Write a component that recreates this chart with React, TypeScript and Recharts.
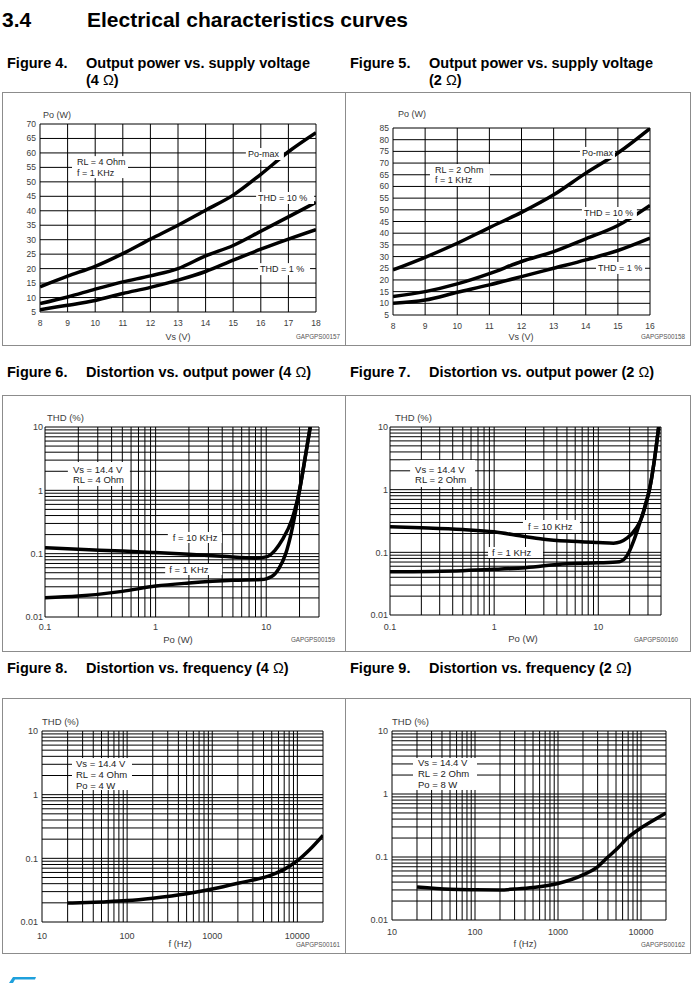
import React from 'react';
import { LineChart, Line, XAxis, YAxis, CartesianGrid, ReferenceDot } from 'recharts';

const FONT = '"Liberation Sans", Arial, Helvetica, sans-serif';
const INK = '#000';
const LABEL = '#3c3c3c';

// Figure 4 - output power vs supply voltage, RL = 4 ohm
const vs4 = [8, 9, 10, 11, 12, 13, 14, 15, 16, 17, 18];
const poMax4 = [13.7, 17.4, 20.8, 25.2, 30.2, 35, 40.2, 45.4, 52.6, 60.4, 67];
const poThd10_4 = [7.9, 10.2, 12.9, 15.4, 17.5, 20, 24.4, 28, 32.9, 37.9, 42.9];
const poThd1_4 = [5.8, 7.3, 9, 11.4, 13.5, 16, 19, 22.9, 26.7, 30.2, 33.5];
const poTicks4 = [5, 10, 15, 20, 25, 30, 35, 40, 45, 50, 55, 60, 65, 70];

// Figure 5 - output power vs supply voltage, RL = 2 ohm
const vs5 = [8, 9, 10, 11, 12, 13, 14, 15, 16];
const poMax5 = [24.3, 29.7, 35.7, 42.4, 48.9, 56.4, 65.7, 74.3, 84.8];
const poThd10_5 = [12.9, 15, 18.3, 22.7, 27.9, 32.1, 37.6, 43.3, 51.9];
const poThd1_5 = [10, 11.4, 14.7, 17.9, 21.4, 25, 28.6, 32.6, 37.9];
const poTicks5 = [5, 10, 15, 20, 25, 30, 35, 40, 45, 50, 55, 60, 65, 70, 75, 80, 85];

// Figure 6 - THD vs output power, RL = 4 ohm
const po6At10k = [0.1, 0.2, 0.5, 1, 2, 4, 8, 10, 12, 14, 17, 20, 22, 25];
const thd6At10k = [0.124, 0.117, 0.11, 0.104, 0.098, 0.091, 0.085, 0.089, 0.113, 0.166, 0.34, 1.0, 2.6, 10];
const po6At1k = [0.1, 0.2, 0.5, 1, 2, 5, 9, 10, 12, 13, 15, 17, 19, 20, 22, 25];
const thd6At1k = [0.0202, 0.0214, 0.0254, 0.0308, 0.0344, 0.038, 0.039, 0.04, 0.048, 0.058, 0.1, 0.23, 0.62, 1.0, 2.6, 10];

// Figure 7 - THD vs output power, RL = 2 ohm
const po7At10k = [0.1, 0.2, 0.5, 1, 2, 3, 5, 10, 14, 19, 23, 26.5, 28.6, 31, 34.6, 38];
const thd7At10k = [0.255, 0.246, 0.231, 0.213, 0.177, 0.162, 0.151, 0.143, 0.14, 0.17, 0.24, 0.38, 0.6, 1.0, 3, 10];
const po7At1k = [0.1, 0.5, 1, 2, 5, 10, 16, 19, 22, 25.4, 28.6, 31, 34.6, 38];
const thd7At1k = [0.049, 0.051, 0.0535, 0.057, 0.066, 0.068, 0.071, 0.09, 0.157, 0.32, 0.6, 1.0, 3, 10];

// Figure 8 - THD vs frequency, RL = 4 ohm, Po = 4 W
const freq8 = [20, 50, 100, 200, 500, 1000, 2000, 5000, 7000, 10000, 14000, 20000];
const thd8 = [0.0198, 0.0207, 0.0217, 0.0237, 0.0278, 0.033, 0.0406, 0.055, 0.067, 0.092, 0.138, 0.23];

// Figure 9 - THD vs frequency, RL = 2 ohm, Po = 8 W
const freq9 = [20, 50, 100, 200, 300, 500, 1000, 2000, 3000, 4000, 5000, 7000, 10000, 14000, 20000];
const thd9 = [0.0334, 0.0307, 0.0302, 0.03, 0.031, 0.0328, 0.038, 0.052, 0.07, 0.1, 0.13, 0.205, 0.29, 0.38, 0.5];

const powerTicks = [0.1, 1, 10];
const freqTicks = [10, 100, 1000, 10000];
const thdTicks = [0.01, 0.1, 1, 10];

// minor log grid: 1..9 in every decade, strictly inside the domain, plus both edges
const logGrid = (lo: number, hi: number) => {
  const out: number[] = [lo];
  for (let e = Math.round(Math.log10(lo)); Math.pow(10, e) < hi; e++) {
    for (let m = 1; m < 10; m++) {
      const v = Number((m * Math.pow(10, e)).toPrecision(3));
      if (v > lo && v < hi) out.push(v);
    }
  }
  out.push(hi);
  return out;
};

type Curve = { xs: number[]; ys: number[] };
type Note = {
  x: number; y: number; lines: string[]; w: number; h: number;
  pad?: number; first?: number; gap?: number; size?: number;
};

interface PlotProps {
  rect: [number, number, number, number];
  log?: boolean;
  xDomain: [number, number];
  yDomain: [number, number];
  xTicks: number[];
  yTicks: number[];
  xGrid: number[];
  yGrid: number[];
  curves: Curve[];
  notes: Note[];
  tickFont?: number;
  xTickGap?: number;
  yTickGap?: number;
}

const noteShape = (n: Note) => (sp: any) => {
  const pad = n.pad ?? 4;
  const first = n.first ?? n.h / 2;
  const gap = n.gap ?? 11;
  return (
    <g>
      <rect x={sp.cx} y={sp.cy} width={n.w} height={n.h} fill="#fff" />
      {n.lines.map((t, i) => (
        <text
          key={i}
          x={sp.cx + pad}
          y={sp.cy + first + i * gap}
          dominantBaseline="central"
          fontSize={n.size ?? 9}
          fontFamily={FONT}
          fill="#222"
        >
          {t}
        </text>
      ))}
    </g>
  );
};

const YW = 40;
const XH = 30;
const PAD = 10;

// Both layers share the same axes so their scales line up exactly;
// the grid sits in the lower svg, notes and curves in the upper one.
function Axes(p: PlotProps & { showTicks: boolean }) {
  const scale = p.log ? 'log' : 'linear';
  const tick = p.showTicks ? { fontSize: p.tickFont ?? 9, fill: LABEL, fontFamily: FONT } : false;
  const fmt = (v: number) => String(v);
  return [
    <XAxis
      key="xa"
      type="number"
      dataKey="x"
      scale={scale}
      domain={p.xDomain}
      ticks={p.xTicks}
      interval={0}
      allowDataOverflow
      axisLine={false}
      tickLine={false}
      tickSize={0}
      tickMargin={p.xTickGap ?? 8}
      height={XH}
      tick={tick}
      tickFormatter={fmt}
    />,
    <YAxis
      key="ya"
      type="number"
      dataKey="y"
      scale={scale}
      domain={p.yDomain}
      ticks={p.yTicks}
      interval={0}
      allowDataOverflow
      axisLine={false}
      tickLine={false}
      tickSize={0}
      tickMargin={p.yTickGap ?? 3}
      width={YW}
      tick={tick}
      tickFormatter={fmt}
    />,
  ];
}

function Plot(p: PlotProps) {
  const [px, py, pw, ph] = p.rect;
  const w = pw + YW + PAD;
  const h = ph + PAD + XH;
  const margin = { top: PAD, right: PAD, bottom: 0, left: 0 };
  return (
    <div style={{ position: 'absolute', left: px - YW, top: py - PAD, width: w, height: h }}>
      <LineChart width={w} height={h} margin={margin}>
        <CartesianGrid stroke={INK} strokeWidth={1} fill="none" horizontalValues={p.yGrid} verticalValues={p.xGrid} />
        {Axes({ ...p, showTicks: true })}
      </LineChart>
      <div style={{ position: 'absolute', left: 0, top: 0 }}>
        <LineChart width={w} height={h} margin={margin}>
          {Axes({ ...p, showTicks: false })}
          {p.notes.map((n, i) => (
            <ReferenceDot key={'n' + i} x={n.x} y={n.y} r={0} ifOverflow="visible" shape={noteShape(n)} />
          ))}
          {p.curves.map((c, i) => (
            <Line
              key={'c' + i}
              data={c.xs.map((x, j) => ({ x, y: c.ys[j] }))}
              dataKey="y"
              type="monotone"
              stroke={INK}
              strokeWidth={3.5}
              dot={false}
              activeDot={false}
              isAnimationActive={false}
            />
          ))}
        </LineChart>
      </div>
    </div>
  );
}

const Txt = ({ x, y, size = 9, anchor = 'start', color = LABEL, bold = false, children }: any) => {
  const tx = anchor === 'middle' ? '-50%' : anchor === 'end' ? '-100%' : '0';
  return (
    <div
      style={{
        position: 'absolute', left: x, top: y, transform: `translate(${tx}, -50%)`,
        fontSize: size, fontFamily: FONT, color, fontWeight: bold ? 700 : 400,
        whiteSpace: 'nowrap', lineHeight: 1,
      }}
    >
      {children}
    </div>
  );
};

const Ohm = () => <span style={{ fontWeight: 400 }}>Ω</span>;

const Caption = ({ x, y, fig, children }: any) => (
  <>
    <Txt x={x} y={y} size={14.5} bold color="#000">{fig}</Txt>
    <Txt x={x + 79} y={y} size={14.5} bold color="#000">{children}</Txt>
  </>
);

const Box = ({ x, y, w, h }: any) => (
  <div style={{ position: 'absolute', left: x, top: y, width: w, height: h, border: '1px solid #8c8c8c', boxSizing: 'border-box' }} />
);

const curve = (xs: number[], ys: number[]): Curve => ({ xs, ys });

export default function App() {
  return (
    <div style={{ position: 'absolute', left: 0, top: 0, width: 697, height: 983, background: '#fff', overflow: 'hidden', fontFamily: FONT }}>
      <Txt x={2} y={19} size={21} bold color="#000">3.4</Txt>
      <Txt x={87} y={19} size={21} bold color="#000">Electrical characteristics curves</Txt>

      <Caption x={7} y={63} fig="Figure 4.">Output power vs. supply voltage</Caption>
      <Txt x={86} y={80} size={14.5} bold color="#000">(4 <Ohm />)</Txt>
      <Caption x={350} y={63} fig="Figure 5.">Output power vs. supply voltage</Caption>
      <Txt x={429} y={80} size={14.5} bold color="#000">(2 <Ohm />)</Txt>

      <Caption x={7} y={372} fig="Figure 6.">Distortion vs. output power (4 <Ohm />)</Caption>
      <Caption x={350} y={372} fig="Figure 7.">Distortion vs. output power (2 <Ohm />)</Caption>
      <Caption x={7} y={668} fig="Figure 8.">Distortion vs. frequency (4 <Ohm />)</Caption>
      <Caption x={350} y={668} fig="Figure 9.">Distortion vs. frequency (2 <Ohm />)</Caption>

      <Box x={2} y={92} w={344} h={254} />
      <Box x={345} y={92} w={346} h={254} />
      <Box x={2} y={395} w={344} h={257} />
      <Box x={345} y={395} w={346} h={257} />
      <Box x={2} y={698} w={344} h={256} />
      <Box x={345} y={698} w={346} h={256} />

      {/* Figure 4 */}
      <Plot
        rect={[40, 124, 276, 188]}
        xDomain={[8, 18]}
        yDomain={[5, 70]}
        xTicks={vs4}
        yTicks={poTicks4}
        xGrid={vs4}
        yGrid={poTicks4}
        tickFont={8.5}
        xTickGap={8}
        yTickGap={4}
        curves={[curve(vs4, poMax4), curve(vs4, poThd10_4), curve(vs4, poThd1_4)]}
        notes={[
          { x: 9.16, y: 58.9, lines: ['RL = 4 Ohm', 'f = 1 KHz'], w: 56, h: 22, pad: 5, first: 6, gap: 11 },
          { x: 15.46, y: 61.7, lines: ['Po-max'], w: 38, h: 12, pad: 2 },
          { x: 15.83, y: 46.5, lines: ['THD = 10 %'], w: 58, h: 12, pad: 2 },
          { x: 15.9, y: 21.9, lines: ['THD = 1 %'], w: 52, h: 12, pad: 2 },
        ]}
      />
      <Txt x={43} y={115}>Po (W)</Txt>
      <Txt x={178} y={337} anchor="middle">Vs (V)</Txt>
      <Txt x={340} y={337} anchor="end" size={6.3} color="#555">GAPGPS00157</Txt>

      {/* Figure 5 */}
      <Plot
        rect={[393, 128, 257, 187]}
        xDomain={[8, 16]}
        yDomain={[5, 85]}
        xTicks={vs5}
        yTicks={poTicks5}
        xGrid={vs5}
        yGrid={poTicks5}
        tickFont={8.5}
        xTickGap={8}
        yTickGap={4}
        curves={[curve(vs5, poMax5), curve(vs5, poThd10_5), curve(vs5, poThd1_5)]}
        notes={[
          { x: 9.15, y: 69.6, lines: ['RL = 2 Ohm', 'f = 1 KHz'], w: 60, h: 22, pad: 5, first: 6, gap: 10 },
          { x: 13.82, y: 76.9, lines: ['Po-max'], w: 35, h: 12, pad: 2 },
          { x: 13.88, y: 51.2, lines: ['THD = 10 %'], w: 55, h: 12, pad: 2 },
          { x: 14.32, y: 27.7, lines: ['THD = 1 %'], w: 49, h: 12, pad: 2 },
        ]}
      />
      <Txt x={398} y={114}>Po (W)</Txt>
      <Txt x={521} y={337} anchor="middle">Vs (V)</Txt>
      <Txt x={685} y={337} anchor="end" size={6.3} color="#555">GAPGPS00158</Txt>

      {/* Figure 6 */}
      <Plot
        rect={[45, 427, 274, 190]}
        log
        xDomain={[0.1, 30]}
        yDomain={[0.01, 10]}
        xTicks={powerTicks}
        yTicks={thdTicks}
        xGrid={logGrid(0.1, 30)}
        yGrid={logGrid(0.01, 10)}
        tickFont={9}
        xTickGap={7}
        yTickGap={2}
        curves={[curve(po6At10k, thd6At10k), curve(po6At1k, thd6At1k)]}
        notes={[
          { x: 0.161, y: 2.8, lines: ['Vs = 14.4 V', 'RL = 4 Ohm'], w: 62, h: 24, pad: 5, first: 7, gap: 10, size: 9.5 },
          { x: 1.29, y: 0.22, lines: ['f = 10 KHz'], w: 54, h: 11, pad: 5, size: 9.5 },
          { x: 1.22, y: 0.0687, lines: ['f = 1 KHz'], w: 57, h: 11, pad: 4, size: 9.5 },
        ]}
      />
      <Txt x={47} y={418} size={9.5}>THD (%)</Txt>
      <Txt x={178} y={640} anchor="middle" size={9.5}>Po (W)</Txt>
      <Txt x={335} y={640} anchor="end" size={6.3} color="#555">GAPGPS00159</Txt>

      {/* Figure 7 */}
      <Plot
        rect={[390, 427, 271, 188]}
        log
        xDomain={[0.1, 40]}
        yDomain={[0.01, 10]}
        xTicks={powerTicks}
        yTicks={thdTicks}
        xGrid={logGrid(0.1, 40)}
        yGrid={logGrid(0.01, 10)}
        tickFont={9}
        xTickGap={9}
        yTickGap={2}
        curves={[curve(po7At10k, thd7At10k), curve(po7At1k, thd7At1k)]}
        notes={[
          { x: 0.156, y: 2.97, lines: ['Vs = 14.4 V', 'RL = 2 Ohm'], w: 65, h: 27, pad: 5, first: 9, gap: 10, size: 9.5 },
          { x: 1.89, y: 0.328, lines: ['f = 10 KHz'], w: 57, h: 13, pad: 5, size: 9.5 },
          { x: 0.873, y: 0.1217, lines: ['f = 1 KHz'], w: 55, h: 11, pad: 4, size: 9.5 },
        ]}
      />
      <Txt x={395} y={418} size={9.5}>THD (%)</Txt>
      <Txt x={523} y={639} anchor="middle" size={9.5}>Po (W)</Txt>
      <Txt x={678} y={640} anchor="end" size={6.3} color="#555">GAPGPS00160</Txt>

      {/* Figure 8 */}
      <Plot
        rect={[42, 731, 281, 191]}
        log
        xDomain={[10, 20000]}
        yDomain={[0.01, 10]}
        xTicks={freqTicks}
        yTicks={thdTicks}
        xGrid={logGrid(10, 20000)}
        yGrid={logGrid(0.01, 10)}
        tickFont={9}
        xTickGap={11}
        yTickGap={4}
        curves={[curve(freq8, thd8)]}
        notes={[
          { x: 22.5, y: 3.76, lines: ['Vs = 14.4 V', 'RL = 4 Ohm', 'Po = 4 W'], w: 60, h: 32, pad: 4, first: 5, gap: 11, size: 9.5 },
        ]}
      />
      <Txt x={42} y={722} size={9.5}>THD (%)</Txt>
      <Txt x={180} y={944} anchor="middle" size={9.5}>f (Hz)</Txt>
      <Txt x={340} y={945} anchor="end" size={6.3} color="#555">GAPGPS00161</Txt>

      {/* Figure 9 */}
      <Plot
        rect={[392, 731, 274, 189]}
        log
        xDomain={[10, 20000]}
        yDomain={[0.01, 10]}
        xTicks={freqTicks}
        yTicks={thdTicks}
        xGrid={logGrid(10, 20000)}
        yGrid={logGrid(0.01, 10)}
        tickFont={9}
        xTickGap={9}
        yTickGap={4}
        curves={[curve(freq9, thd9)]}
        notes={[
          { x: 17.9, y: 3.73, lines: ['Vs = 14.4 V', 'RL = 2 Ohm', 'Po = 8 W'], w: 64, h: 32, pad: 5, first: 5, gap: 11, size: 9.5 },
        ]}
      />
      <Txt x={392} y={722} size={9.5}>THD (%)</Txt>
      <Txt x={525} y={944} anchor="middle" size={9.5}>f (Hz)</Txt>
      <Txt x={685} y={945} anchor="end" size={6.3} color="#555">GAPGPS00162</Txt>

      <svg style={{ position: 'absolute', left: 0, top: 970 }} width={60} height={13}>
        <polygon points="9,13 13,7 36,7 35,9.5 15,9.5 13,13" fill="#1ea0dc" />
      </svg>
    </div>
  );
}
